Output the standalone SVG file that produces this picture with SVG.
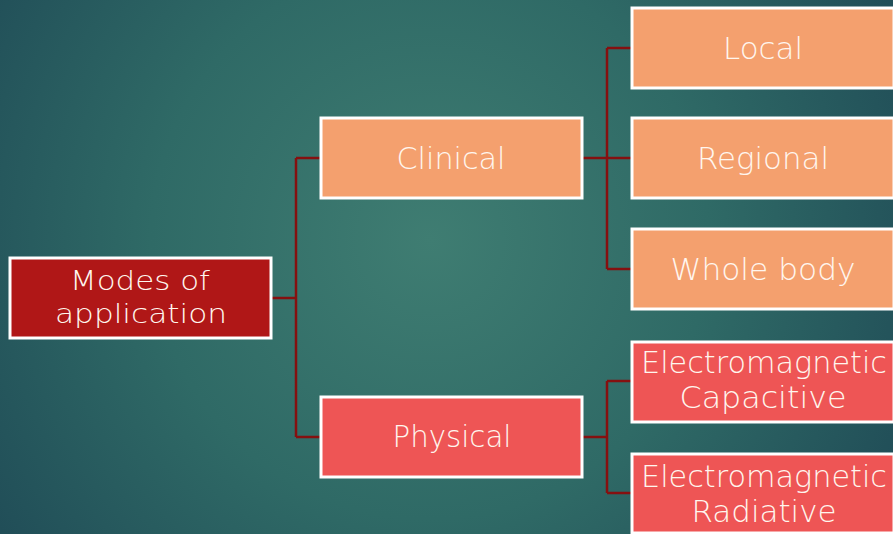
<svg xmlns="http://www.w3.org/2000/svg" width="893" height="534" viewBox="0 0 893 534">
<defs>
<radialGradient id="bg" cx="430" cy="240" r="620" gradientUnits="userSpaceOnUse">
<stop offset="0" stop-color="#3F7D72"/>
<stop offset="0.45" stop-color="#2F6A66"/>
<stop offset="1" stop-color="#1B4252"/>
</radialGradient>
<style>
.box{stroke:#FFFFFF;stroke-width:3}
.root{fill:#B01717}
.l1a{fill:#F4A06E}
.l1b{fill:#EE5555}
.t{font-family:"DejaVu Sans","Liberation Sans",sans-serif;font-size:30px;font-weight:200;fill:#FFF6EE;text-anchor:middle}
.s{font-size:27px}
.c{fill:none;stroke:#851010;stroke-width:2.5}
</style>
</defs>
<rect x="0" y="0" width="893" height="534" fill="url(#bg)"/>
<g id="connectors">
<path class="c" d="M271 298H296M296 158V437M296 158H320M296 437H320"/>
<path class="c" d="M582 158H607M607 48V269M607 48H632M607 158H632M607 269H632"/>
<path class="c" d="M582 437H607M607 381V493M607 381H632M607 493H632"/>
</g>
<g id="modes">
<rect class="box root" x="10" y="258" width="261" height="80"/>
<text class="t s" x="140" y="290" textLength="140" lengthAdjust="spacingAndGlyphs">Modes of</text>
<text class="t s" x="141" y="323" textLength="172" lengthAdjust="spacingAndGlyphs">application</text>
</g>
<g id="clinical">
<rect class="box l1a" x="321" y="118" width="261" height="80"/>
<text class="t" x="451" y="169" textLength="109" lengthAdjust="spacingAndGlyphs">Clinical</text>
</g>
<g id="physical">
<rect class="box l1b" x="321" y="397" width="261" height="80"/>
<text class="t" x="452" y="447" textLength="119" lengthAdjust="spacingAndGlyphs">Physical</text>
</g>
<g id="local">
<rect class="box l1a" x="632" y="8" width="262" height="80"/>
<text class="t" x="763" y="59" textLength="80" lengthAdjust="spacingAndGlyphs">Local</text>
</g>
<g id="regional">
<rect class="box l1a" x="632" y="118" width="262" height="80"/>
<text class="t" x="763" y="169" textLength="132" lengthAdjust="spacingAndGlyphs">Regional</text>
</g>
<g id="wholebody">
<rect class="box l1a" x="632" y="229" width="262" height="80"/>
<text class="t" x="763" y="280" textLength="185" lengthAdjust="spacingAndGlyphs">Whole body</text>
</g>
<g id="capacitive">
<rect class="box l1b" x="632" y="342" width="262" height="80"/>
<text class="t" x="764" y="373" textLength="246" lengthAdjust="spacingAndGlyphs">Electromagnetic</text>
<text class="t" x="763" y="408" textLength="167" lengthAdjust="spacingAndGlyphs">Capacitive</text>
</g>
<g id="radiative">
<rect class="box l1b" x="632" y="454" width="262" height="79"/>
<text class="t" x="764" y="487" textLength="246" lengthAdjust="spacingAndGlyphs">Electromagnetic</text>
<text class="t" x="764" y="522" textLength="145" lengthAdjust="spacingAndGlyphs">Radiative</text>
</g>
</svg>
